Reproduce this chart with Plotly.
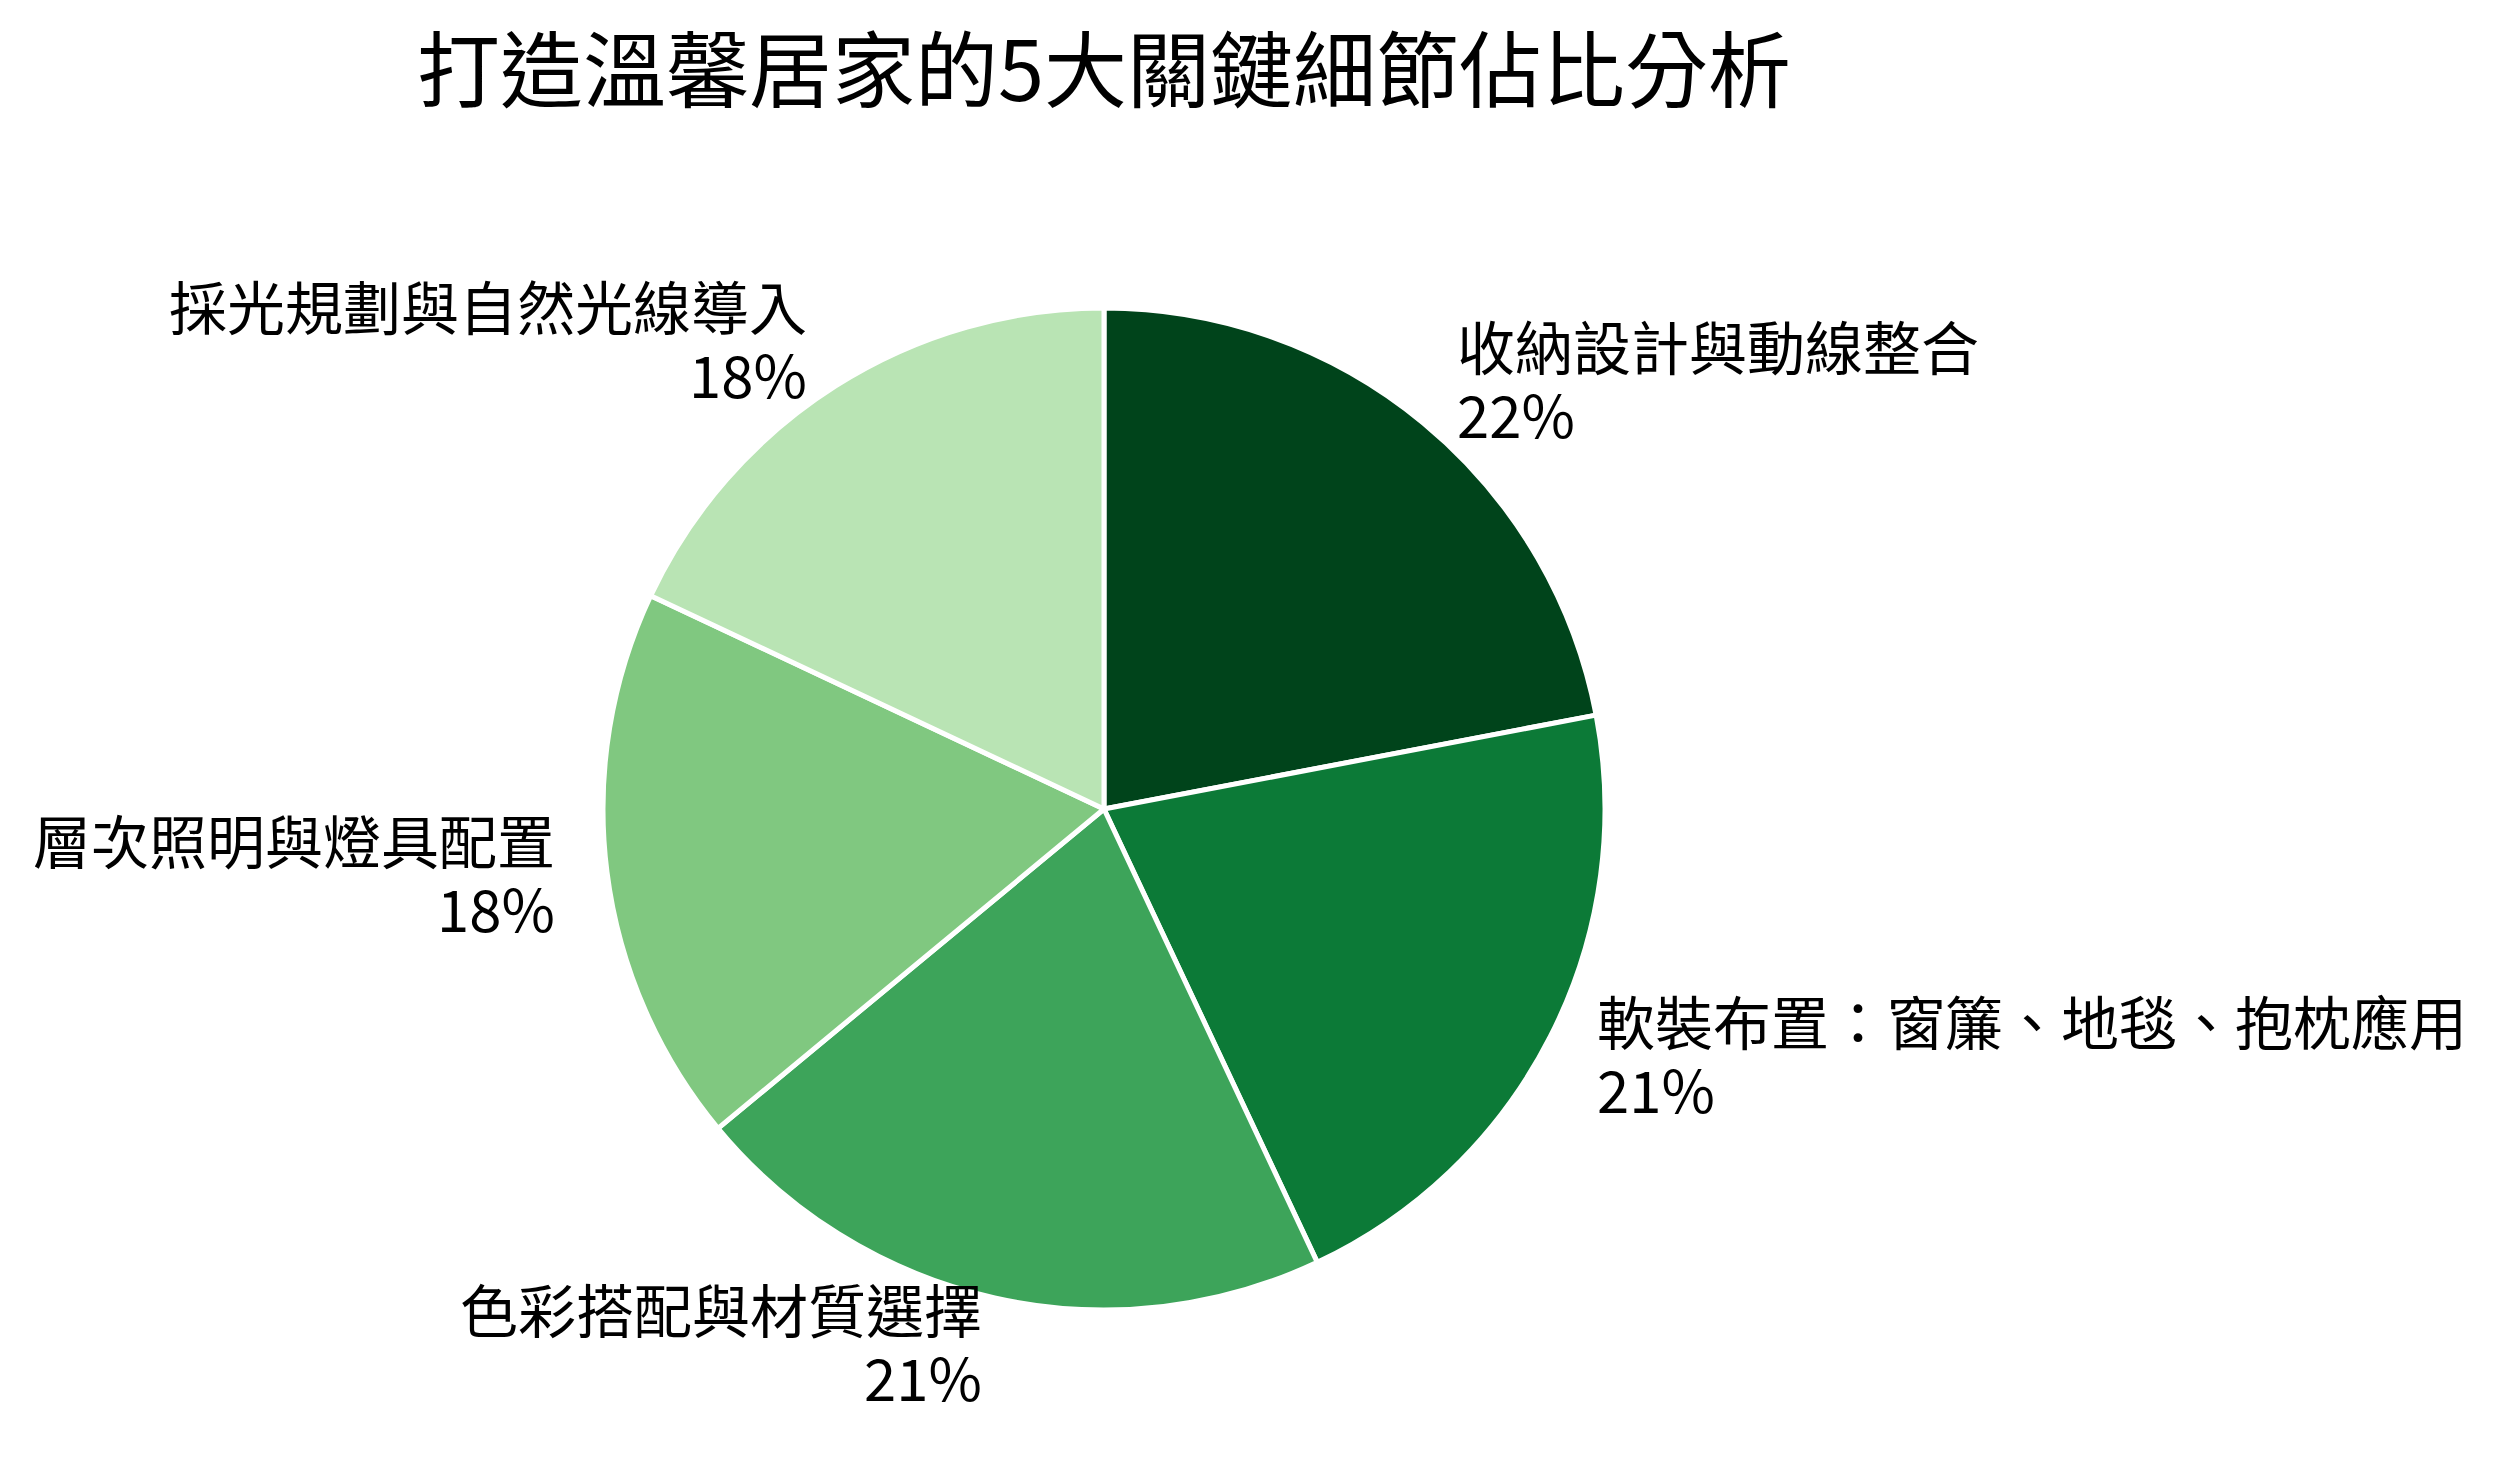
import math
import plotly.graph_objects as go

labels = ["收納設計與動線整合", "軟裝布置：窗簾、地毯、抱枕應用", "色彩搭配與材質選擇",
          "層次照明與燈具配置", "採光規劃與自然光線導入"]
values = [22, 21, 21, 18, 18]
colors = ["#00441b", "#0c7a37", "#3da45a", "#80c880", "#b9e4b4"]
title_text = "打造溫馨居家的5大關鍵細節佔比分析"

W, H = 2503, 1468
cx, cy, r = 1104, 809, 501
label_size = 58
half_gap = 34  # half of the distance between the two text lines (px)
lift = 5       # small upward nudge of the label block (px)

fig = go.Figure(go.Pie(
    labels=labels,
    values=values,
    sort=False,
    direction="clockwise",
    rotation=0,
    marker=dict(colors=colors, line=dict(color="white", width=5)),
    textinfo="none",
    hoverinfo="label+percent",
    showlegend=False,
    automargin=False,
    domain=dict(x=[(cx - r) / W, (cx + r) / W], y=[1 - (cy + r) / H, 1 - (cy - r) / H]),
))

# outside labels: label on first line, percent on second, aligned toward the pie
total = sum(values)
cum = 0
annotations = []
for lab, v in zip(labels, values):
    mid = (cum + v / 2) / total * 2 * math.pi
    cum += v
    px = cx + 1.1 * r * math.sin(mid)
    py = cy - 1.1 * r * math.cos(mid)
    right_side = math.sin(mid) >= 0
    xa = "left" if right_side else "right"
    pct = f"{round(v / total * 100)}%"
    common = dict(x=px / W, y=1 - py / H, xref="paper", yref="paper",
                  xanchor=xa, yanchor="middle", align=xa, showarrow=False,
                  font=dict(size=label_size, color="black", family="Noto Sans CJK TC"))
    annotations.append(dict(text=lab, yshift=half_gap + lift, **common))
    annotations.append(dict(text=pct, yshift=-half_gap + lift, **common))

fig.update_layout(
    width=W, height=H,
    margin=dict(l=0, r=0, t=0, b=0),
    paper_bgcolor="white",
    plot_bgcolor="white",
    font=dict(family="Noto Sans CJK TC", color="black"),
    annotations=annotations,
    title=dict(text=title_text, x=cx / W, xanchor="center", xref="paper",
               y=1 - 72 / H, yanchor="middle", yref="container",
               font=dict(size=83, color="black", family="Noto Sans CJK TC")),
)

fig.write_html("out.html")
